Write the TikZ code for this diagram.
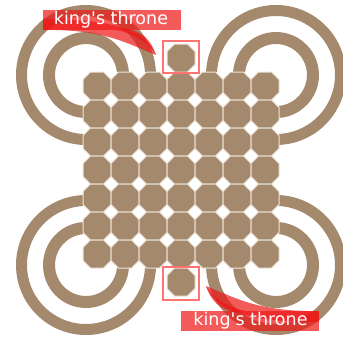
\documentclass[tikz,border=0pt]{standalone}
\usepackage{fontspec}
\newfontfamily\labfont{DejaVu Sans}
\definecolor{brownc}{RGB}{164,137,109}
\definecolor{sepc}{RGB}{238,229,218}
\definecolor{calloutc}{RGB}{238,22,22}
\definecolor{throneboxc}{RGB}{255,115,115}
\begin{document}
\begin{tikzpicture}[x=1pt,y=-1pt,
  innerring/.style={draw=brownc, line width=12pt},
  outerring/.style={draw=brownc, line width=11pt},
  cell/.style={fill=brownc, draw=sepc, line width=1pt},
  octa/.pic={\path[cell] (7.5,0) -- (20.5,0) -- (28,7.5) -- (28,20.5) -- (20.5,28) -- (7.5,28) -- (0,20.5) -- (0,7.5) -- cycle;},
  tail/.style={fill=calloutc, fill opacity=0.7},
  tbox/.style={draw=throneboxc, line width=1.2pt},
  lbl/.style={font=\labfont\fontsize{17.5}{20}\selectfont, text=white, anchor=base, inner sep=0pt}]
\useasboundingbox (0,0) rectangle (343,338);
% rings, top-left
\begin{scope}
\clip (0,0) -- (343,0) -- (343,72) -- (83,72) -- (83,338) -- (0,338) -- cycle;
\draw[innerring] (86,75) ++(80:37) arc[start angle=80,end angle=370,radius=37];
\draw[outerring] (86,75) ++(80:64.5) arc[start angle=80,end angle=370,radius=64.5];
\end{scope}
% rings, top-right
\begin{scope}
\clip (0,0) -- (343,0) -- (343,338) -- (279,338) -- (279,72) -- (0,72) -- cycle;
\draw[innerring] (276,75) ++(170:37) arc[start angle=170,end angle=460,radius=37];
\draw[outerring] (276,75) ++(170:64.5) arc[start angle=170,end angle=460,radius=64.5];
\end{scope}
% rings, bottom-left
\begin{scope}
\clip (0,0) -- (83,0) -- (83,268) -- (343,268) -- (343,338) -- (0,338) -- cycle;
\draw[innerring] (86,265) ++(-10:37) arc[start angle=-10,end angle=280,radius=37];
\draw[outerring] (86,265) ++(-10:64.5) arc[start angle=-10,end angle=280,radius=64.5];
\end{scope}
% rings, bottom-right
\begin{scope}
\clip (279,0) -- (343,0) -- (343,338) -- (0,338) -- (0,268) -- (279,268) -- cycle;
\draw[innerring] (276,265) ++(260:37) arc[start angle=260,end angle=550,radius=37];
\draw[outerring] (276,265) ++(260:64.5) arc[start angle=260,end angle=550,radius=64.5];
\end{scope}
% grid of cells
\foreach \i in {0,...,6} {
  \foreach \j in {0,...,6} {
    \pic at ({83+28*\i},{72+28*\j}) {octa};
  }
}
% thrones
\pic at (167,44) {octa};
\pic at (167,268) {octa};
\draw[tbox] (163,41) rectangle (199,73);
\draw[tbox] (163,267) rectangle (199,300);
% top callout
\fill[tail] (43,19) .. controls (100,19) and (145,26) .. (156,55) .. controls (128,44) and (105,29) .. (43,30) -- cycle;
\fill[tail] (116,30) .. controls (136,34) and (150,44) .. (156,55) .. controls (151,40) and (142,31) .. (126,28.5) -- cycle;
\fill[tail] (43,10) rectangle (181,30);
\node[lbl] (topLabel) at (111,24.5) {king's throne};
% bottom callout (point reflection of the top one)
\begin{scope}[rotate around={180:(181,170.5)}]
\fill[tail] (43,19) .. controls (100,19) and (145,26) .. (156,55) .. controls (128,44) and (105,29) .. (43,30) -- cycle;
\fill[tail] (116,30) .. controls (136,34) and (150,44) .. (156,55) .. controls (151,40) and (142,31) .. (126,28.5) -- cycle;
\fill[tail] (43,10) rectangle (181,30);
\end{scope}
\node[lbl] (bottomLabel) at (250.5,325.5) {king's throne};
\end{tikzpicture}
\end{document}
